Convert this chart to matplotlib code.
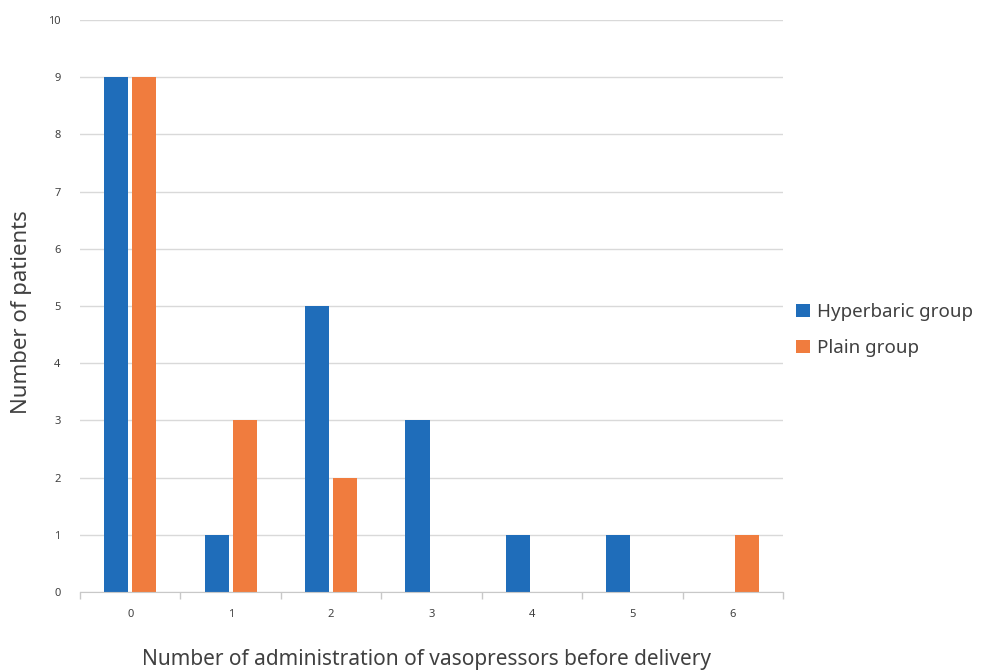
import matplotlib
matplotlib.use("Agg")
import matplotlib.pyplot as plt
import numpy as np

plt.rcParams['font.family'] = ['Noto Sans', 'DejaVu Sans']

categories = ["0", "1", "2", "3", "4", "5", "6"]
hyperbaric = [9, 1, 5, 3, 1, 1, 0]
plain = [9, 3, 2, 0, 0, 0, 1]
series_names = ["Hyperbaric group", "Plain group"]
yticks = list(range(0, 11))

blue = "#1F6DBA"
orange = "#F07C3E"
text_col = "#404040"

fig = plt.figure(figsize=(9.88, 6.70), dpi=100)
ax = fig.add_axes([0.081, 0.1164, 0.7115, 0.8536])

x = np.arange(len(categories))
w = 0.24
ax.bar(x - 0.14, hyperbaric, width=w, color=blue, label=series_names[0], zorder=3)
ax.bar(x + 0.14, plain, width=w, color=orange, label=series_names[1], zorder=3)

ax.set_xlim(-0.5, len(categories) - 0.5)
ax.set_ylim(0, 10)
ax.set_yticks(yticks)
ax.set_yticklabels([str(v) for v in yticks], fontsize=8, color=text_col)
ax.set_xticks(x)
ax.set_xticklabels(categories, fontsize=8, color=text_col)
ax.set_xticks(np.arange(-0.5, len(categories)), minor=True)
ax.tick_params(axis="x", which="major", length=0, pad=12)
ax.tick_params(axis="x", which="minor", length=5, color="#C8C8C8", width=1)
ax.tick_params(axis="y", length=0, pad=14)

ax.grid(axis="y", color="#D9D9D9", linewidth=1, zorder=0)
for s in ["top", "right", "left"]:
    ax.spines[s].set_visible(False)
ax.spines["bottom"].set_color("#C8C8C8")
ax.spines["bottom"].set_zorder(4)

fig.text(22 / 988, 1 - 312 / 670, "Number of patients", rotation=90,
         fontsize=16, color=text_col, ha="center", va="center")
fig.text(426 / 988, 1 - 660 / 670,
         "Number of administration of vasopressors before delivery",
         fontsize=15, color=text_col, ha="center", va="center")

leg = ax.legend(loc="center left", bbox_to_anchor=(1.0, 0.458), frameon=False,
                borderaxespad=0.3, fontsize=13.5, handlelength=0.75,
                handleheight=0.75, handletextpad=0.35, labelspacing=0.95)
for t in leg.get_texts():
    t.set_color(text_col)

fig.savefig("out.png", dpi=100)
